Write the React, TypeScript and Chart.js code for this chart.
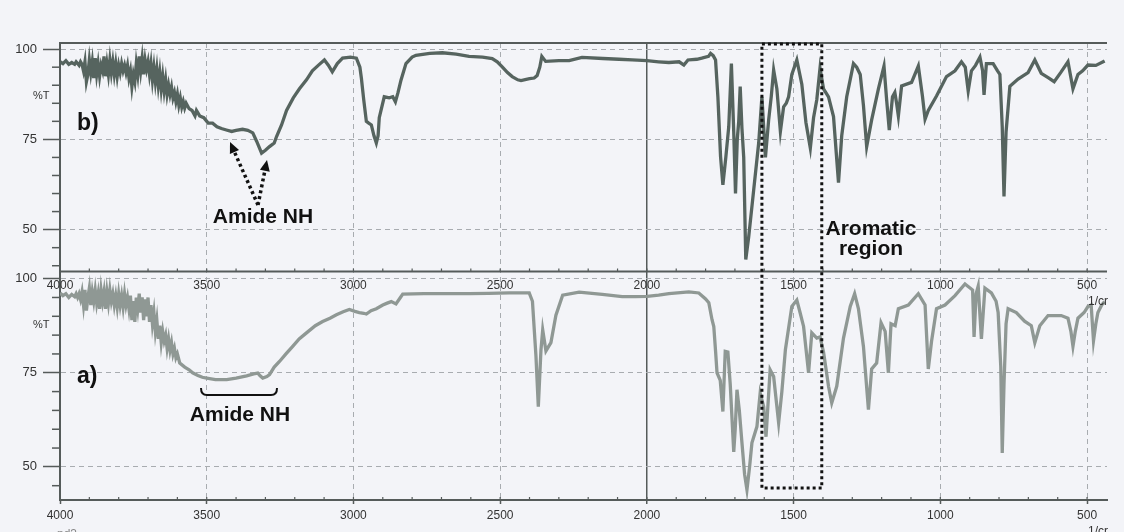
import React, { useEffect, useRef } from 'react';
import { Chart, registerables } from 'chart.js';

Chart.register(...registerables);

// ---- Spectrum b) (top panel): wavenumber (1/cm) and %T ----
const waveB = [
  4000, 3990, 3980, 3970, 3960, 3950, 3945, 3940, 3935, 3930,
  3925, 3920, 3915, 3910, 3905, 3900, 3895, 3890, 3885, 3880,
  3875, 3870, 3865, 3860, 3855, 3850, 3845, 3840, 3835, 3830,
  3825, 3820, 3815, 3810, 3805, 3800, 3795, 3790, 3785, 3780,
  3775, 3770, 3765, 3760, 3755, 3750, 3745, 3740, 3735, 3730,
  3725, 3720, 3715, 3710, 3705, 3700, 3695, 3690, 3685, 3680,
  3675, 3670, 3665, 3660, 3655, 3650, 3645, 3640, 3635, 3630,
  3625, 3620, 3615, 3610, 3605, 3600, 3595, 3590, 3585, 3580,
  3575, 3570, 3560, 3550, 3540, 3535, 3524, 3510, 3495, 3480,
  3465, 3450, 3433, 3415, 3400, 3378, 3360, 3343, 3330, 3313,
  3300, 3286, 3270, 3262, 3245, 3228, 3205, 3184, 3160, 3140,
  3120, 3099, 3085, 3072, 3055, 3037, 3010, 2990, 2978, 2973,
  2965, 2956, 2948, 2939, 2930, 2922, 2916, 2912, 2895, 2878,
  2866, 2857, 2848, 2838, 2821, 2800, 2787, 2740, 2697, 2650,
  2606, 2560, 2527, 2510, 2493, 2475, 2459, 2440, 2429, 2400,
  2384, 2374, 2365, 2358, 2345, 2300, 2265, 2221, 2150, 2095,
  2050, 2000, 1960, 1925, 1890, 1874, 1860, 1830, 1813, 1790,
  1783, 1774, 1766, 1758, 1749, 1741, 1731, 1721, 1712, 1704,
  1698, 1692, 1687, 1682, 1676, 1670, 1663, 1653, 1636, 1619,
  1608, 1596, 1585, 1576, 1568, 1557, 1545, 1534, 1525, 1517,
  1506, 1489, 1472, 1458, 1443, 1432, 1421, 1410, 1398, 1381,
  1364, 1347, 1336, 1319, 1296, 1285, 1273, 1262, 1251, 1234,
  1211, 1192, 1183, 1174, 1163, 1155, 1149, 1143, 1132, 1098,
  1075, 1061, 1052, 1041, 1013, 979, 950, 928, 915, 905,
  894, 880, 865, 856, 851, 843, 820, 805, 797, 789,
  783, 776, 763, 735, 701, 678, 656, 630, 612, 590,
  565, 548, 531, 515, 497, 470, 440,
];
const transB = [
  96.5, 96, 96.8, 95.8, 96.3, 95.8, 96.5, 96, 95.5, 96.5,
  95.8, 94, 96.5, 91, 93, 97, 93.5, 96.5, 92, 97.5,
  93, 96, 92.5, 95.5, 94, 98, 92.5, 96, 93, 97,
  93.5, 96.5, 93, 96, 92.5, 95.5, 93.5, 96, 94, 95.5,
  93.5, 95.5, 92, 94, 89.6, 93, 91, 96, 93, 98,
  94, 97.5, 93, 97, 94.5, 96.5, 93, 96, 91.5, 95,
  91, 94.5, 90, 93.5, 89, 92.5, 88.5, 91.5, 87.5, 90,
  87.5, 89.5, 86.5, 88, 85.5, 87.5, 84.5, 86.5, 84, 85.5,
  83.7, 85, 83.5, 83, 81.5, 83, 81.5, 81, 79.5, 79.5,
  78.5, 78, 77.6, 77.2, 77.5, 77.8, 77.5, 76.8, 74.5, 71.2,
  72, 73, 74, 75.8, 79, 83, 86.5, 89, 91.5, 94,
  95.5, 97, 95.5, 93.7, 96, 97.5, 97.8, 97.5, 95, 92,
  86, 80, 79.5, 79, 76, 74, 76, 81, 86.8, 86.5,
  86.8, 85.4, 88, 91.4, 96, 97.8, 98.3, 98.8, 99, 98.6,
  98, 97.8, 97.4, 96.5, 95.1, 93.5, 92.4, 91.5, 91.3, 91.8,
  92, 92.7, 95, 98, 96.6, 96.8, 96.8, 97.7, 97.4, 97.2,
  97, 96.8, 96.5, 96.3, 96.5, 95.6, 97, 97.2, 97.5, 98,
  98.8, 98.2, 97, 86.8, 70.3, 62.4, 70, 78.5, 96, 77,
  60, 75, 80, 89.6, 78, 70, 41.7, 48, 61, 74,
  86.8, 70, 80.4, 87, 94.2, 89, 77.2, 84, 85, 86.8,
  93, 97, 90.3, 79.7, 72.6, 81, 86, 94.7, 89, 86.8,
  81.3, 63, 76, 86.8, 96, 95, 93, 84.4, 73, 80.4,
  89, 95.3, 86, 77.6, 86.8, 88, 85, 81.5, 89.8, 90.8,
  95.3, 87, 80.6, 83, 87, 92.4, 94, 96.5, 95, 88.4,
  94, 95.5, 97.8, 94, 87.3, 96, 96, 94, 93, 78.5,
  59.2, 77, 89.7, 91.7, 93.5, 97, 93.3, 92, 91, 93.5,
  96.5, 89, 93, 94, 95.6, 95.5, 96.7,
];

// ---- Spectrum a) (bottom panel): wavenumber (1/cm) and %T ----
const waveA = [
  4000, 3990, 3980, 3970, 3960, 3950, 3945, 3940, 3935, 3930,
  3925, 3920, 3915, 3910, 3905, 3900, 3895, 3890, 3885, 3880,
  3875, 3870, 3865, 3860, 3855, 3850, 3845, 3840, 3835, 3830,
  3825, 3820, 3815, 3810, 3805, 3800, 3795, 3790, 3785, 3780,
  3775, 3770, 3765, 3760, 3755, 3750, 3745, 3740, 3735, 3730,
  3725, 3720, 3715, 3710, 3705, 3700, 3695, 3690, 3685, 3680,
  3675, 3670, 3665, 3660, 3655, 3650, 3645, 3640, 3635, 3630,
  3625, 3620, 3615, 3610, 3605, 3600,
  3592, 3575, 3560, 3548, 3530, 3515, 3500, 3470, 3432, 3400,
  3364, 3340, 3326, 3318, 3309, 3295, 3286, 3270, 3252, 3230,
  3207, 3185, 3160, 3130, 3105, 3080, 3058, 3035, 3014, 2995,
  2980, 2965, 2956, 2940, 2922, 2900, 2885, 2871, 2855, 2840,
  2832, 2760, 2719, 2605, 2540, 2469, 2401, 2390, 2378, 2370,
  2361, 2355, 2344, 2327, 2310, 2287, 2231, 2152, 2084, 2040,
  1999, 1960, 1925, 1857, 1823, 1800, 1789, 1778, 1772, 1766,
  1761, 1750, 1741, 1733, 1724, 1716, 1704, 1699, 1693, 1685,
  1676, 1667, 1659, 1650, 1642, 1625, 1614, 1602, 1594, 1580,
  1568, 1551, 1540, 1528, 1506, 1489, 1478, 1466, 1449, 1438,
  1421, 1410, 1398, 1381, 1370, 1353, 1330, 1307, 1292, 1279,
  1262, 1245, 1234, 1217, 1202, 1188, 1177, 1168, 1154, 1143,
  1109, 1075, 1052, 1041, 1030, 1013, 984, 950, 916, 890,
  885, 878, 871, 860, 848, 826, 810, 803, 794, 789,
  783, 776, 769, 741, 713, 690, 678, 661, 633, 588,
  565, 555, 548, 540, 531, 510, 497, 486, 478, 470,
  463, 450, 440,
];
const transA = [
  96.2, 95.5, 96, 95, 95.8, 95.2, 96, 95, 96, 94.5,
  96.5, 93, 97, 91.5, 95, 97.5, 93, 96.5, 94, 97,
  93.5, 96, 92, 97, 94, 96.5, 92, 96.5, 93.5, 97,
  94, 96, 93, 95.5, 92.5, 96, 93, 95.5, 92.5, 96,
  93, 95, 92, 95.5, 89, 94, 88.5, 95, 92, 96,
  91, 95, 89, 94.5, 90, 95, 88.5, 93, 88, 91,
  86, 89, 84, 87.5, 83, 86, 83.5, 85, 81.5, 84,
  81, 83, 80, 81.5, 79, 80,
  77.6, 76.5, 75.8, 75, 74.3, 73.8, 73.6, 73.2, 73.2, 73.6,
  74.2, 74.7, 74.9, 74.2, 73.6, 74, 74.5, 76.5, 78, 80,
  82, 84, 85.6, 87.5, 88.6, 89.5, 90.4, 91.2, 91.8, 91.3,
  91, 90.8, 90.6, 91.5, 92, 93, 93.5, 93.9, 93.3, 95,
  95.9, 96, 96, 96, 96.1, 96.2, 96.2, 94, 79.4, 66,
  81, 86.4, 80.8, 83, 90.3, 95.6, 96.4, 95.8, 95.2, 95.2,
  95.3, 95.6, 96, 96.5, 96.2, 94.6, 93.6, 89.1, 87.3, 80.8,
  75, 73, 64.7, 80.7, 80.5, 72, 54, 60, 70.5, 65,
  56.4, 48, 43.9, 50, 56.4, 60.7, 69.6, 66, 58, 75.8,
  74, 61.7, 70, 81.1, 92.6, 94.3, 91, 87.3, 75, 85.6,
  84.2, 84.5, 80.5, 71.4, 67, 71.4, 84.2, 92.6, 96, 92,
  82, 65.2, 76, 77.6, 88.3, 86, 75, 88, 87.5, 92,
  93, 96, 93, 76, 83.3, 92, 93, 95.5, 98.6, 97,
  84.5, 96, 98, 84, 97.5, 96.2, 94, 91, 76.6, 53.7,
  72, 88, 92, 91, 88.7, 87.5, 83, 87.5, 90.2, 90.2,
  89.5, 86, 82, 86, 89.5, 91, 92.6, 93, 83.5, 88,
  91, 93, 93.9,
];

const xTickValues = [4000, 3500, 3000, 2500, 2000, 1500, 1000, 500];
const yTickValues = [50, 75, 100];

const FONT = '"Liberation Sans", Arial, sans-serif';
const BG = '#f3f4f8';
const AXIS = '#555b5a';
const GRID = '#a8acb0';

function drawArrow(ctx: CanvasRenderingContext2D, x0: number, y0: number, x1: number, y1: number) {
  const ang = Math.atan2(y1 - y0, x1 - x0);
  const head = 11;
  const bx = x1 - head * Math.cos(ang);
  const by = y1 - head * Math.sin(ang);
  ctx.save();
  ctx.strokeStyle = '#111';
  ctx.lineWidth = 3.5;
  ctx.setLineDash([3, 3]);
  ctx.beginPath();
  ctx.moveTo(x0, y0);
  ctx.lineTo(bx, by);
  ctx.stroke();
  ctx.setLineDash([]);
  ctx.fillStyle = '#111';
  ctx.beginPath();
  ctx.moveTo(x1, y1);
  ctx.lineTo(bx + 5 * Math.sin(ang), by - 5 * Math.cos(ang));
  ctx.lineTo(bx - 5 * Math.sin(ang), by + 5 * Math.cos(ang));
  ctx.closePath();
  ctx.fill();
  ctx.restore();
}

const decorPlugin = {
  id: 'decor',
  beforeDraw(chart: any) {
    const { ctx, width, height } = chart;
    ctx.save();
    ctx.fillStyle = BG;
    ctx.fillRect(0, 0, width, height);
    ctx.restore();
  },
  afterDraw(chart: any) {
    const { ctx, chartArea } = chart;
    const x = chart.scales.x;
    const yTop = chart.scales.yTop;
    const yBot = chart.scales.yBot;
    ctx.save();
    // frame lines
    ctx.strokeStyle = AXIS;
    ctx.lineWidth = 2;
    ctx.beginPath();
    ctx.moveTo(chartArea.left, yTop.top);
    ctx.lineTo(chartArea.right, yTop.top);
    ctx.moveTo(chartArea.left, yBot.top);
    ctx.lineTo(chartArea.right, yBot.top);
    ctx.stroke();
    // minor y ticks
    ctx.lineWidth = 1.5;
    [yTop, yBot].forEach((s: any) => {
      for (let v = 40; v <= 100; v += 5) {
        if (v < s.min || v > s.max || yTickValues.includes(v)) continue;
        const py = s.getPixelForValue(v);
        ctx.beginPath();
        ctx.moveTo(chartArea.left - 8, py);
        ctx.lineTo(chartArea.left, py);
        ctx.stroke();
      }
    });
    // minor x ticks
    ctx.lineWidth = 1.2;
    for (let v = 3900; v >= 500; v -= 100) {
      const px = x.getPixelForValue(v);
      [yBot.top, chartArea.bottom].forEach((yy: number) => {
        ctx.beginPath();
        ctx.moveTo(px, yy);
        ctx.lineTo(px, yy - 3);
        ctx.stroke();
      });
    }
    // %T labels
    ctx.fillStyle = '#333';
    ctx.font = `11px ${FONT}`;
    ctx.textAlign = 'left';
    ctx.textBaseline = 'middle';
    ctx.fillText('%T', 33, 96);
    ctx.fillText('%T', 33, 325);
    // inner x labels (top of panel a)
    ctx.font = `12px ${FONT}`;
    ctx.textAlign = 'center';
    xTickValues.forEach((v) => {
      ctx.fillText(String(v), x.getPixelForValue(v), yBot.top + 14);
    });
    ctx.save();
    ctx.beginPath();
    ctx.rect(0, 0, chartArea.right + 1, chart.height);
    ctx.clip();
    ctx.textAlign = 'left';
    ctx.fillText('1/cr', 1088, 302);
    ctx.restore();
    ctx.textAlign = 'left';
    ctx.textBaseline = 'alphabetic';
    ctx.fillText('1/cr', 1088, 535);
    ctx.fillStyle = '#888';
    ctx.fillText('pd3', 57, 538);

    // annotations
    ctx.fillStyle = '#111';
    ctx.font = `bold 23px ${FONT}`;
    ctx.textAlign = 'left';
    ctx.fillText('b)', 77, 130);
    ctx.fillText('a)', 77, 383);
    ctx.font = `bold 21px ${FONT}`;
    ctx.textAlign = 'center';
    ctx.fillText('Amide NH', 263, 223);
    ctx.fillText('Amide NH', 240, 421);
    ctx.fillText('Aromatic', 871, 235);
    ctx.fillText('region', 871, 255);

    drawArrow(ctx, 258, 205, 230, 142);
    drawArrow(ctx, 258, 205, 267, 160);

    // bracket
    ctx.strokeStyle = '#111';
    ctx.lineWidth = 2;
    ctx.setLineDash([]);
    ctx.beginPath();
    ctx.moveTo(201, 388);
    ctx.quadraticCurveTo(201, 395, 207, 395);
    ctx.lineTo(271, 395);
    ctx.quadraticCurveTo(277, 395, 277, 388);
    ctx.stroke();

    // dotted rectangle
    const rx0 = x.getPixelForValue(1608);
    const rx1 = x.getPixelForValue(1404);
    ctx.lineWidth = 3;
    ctx.setLineDash([3, 3]);
    ctx.beginPath();
    ctx.rect(rx0, 44, rx1 - rx0, 488 - 44);
    ctx.stroke();
    ctx.restore();
  },
};

export default function App() {
  const ref = useRef<HTMLCanvasElement | null>(null);
  useEffect(() => {
    if (!ref.current) return;
    Chart.defaults.font.family = FONT;
    const ptsB = waveB.map((w, i) => ({ x: w, y: transB[i] }));
    const ptsA = waveA.map((w, i) => ({ x: w, y: transA[i] }));
    const yCommon = (min: number, max: number) => ({
      type: 'linear' as const,
      position: 'left' as const,
      stack: 'ir',
      stackWeight: 1,
      min,
      max,
      afterBuildTicks: (s: any) => {
        s.ticks = yTickValues.map((v) => ({ value: v }));
      },
      afterFit: (s: any) => {
        s.width = 60;
      },
      ticks: {
        color: '#333',
        font: { size: 13, family: FONT },
        padding: 6,
        callback: (v: any) => String(v),
      },
      grid: {
        color: GRID,
        lineWidth: 1,
        tickColor: AXIS,
        tickLength: 17,
        tickWidth: 1.5,
      },
      border: {
        display: true,
        color: AXIS,
        width: 2,
        dash: (c: any) => (c && c.tick ? [5, 4] : []),
      },
    });
    const chart = new Chart(ref.current, {
      type: 'line',
      data: {
        datasets: [
          {
            label: 'b)',
            data: ptsB,
            yAxisID: 'yTop',
            borderColor: '#56645f',
            borderWidth: 3.3,
            pointRadius: 0,
            tension: 0,
            fill: false,
          },
          {
            label: 'a)',
            data: ptsA,
            yAxisID: 'yBot',
            borderColor: '#8f9894',
            borderWidth: 3.3,
            pointRadius: 0,
            tension: 0,
            fill: false,
          },
        ],
      },
      options: {
        animation: false,
        responsive: false,
        maintainAspectRatio: false,
        layout: { padding: { top: 43, right: 17, left: 0, bottom: 0 } },
        plugins: { legend: { display: false }, tooltip: { enabled: false } },
        scales: {
          x: {
            type: 'linear',
            reverse: true,
            min: 432,
            max: 4000,
            afterBuildTicks: (s: any) => {
              s.ticks = xTickValues.map((v) => ({ value: v }));
            },
            afterFit: (s: any) => {
              s.height = 32;
            },
            ticks: {
              color: '#333',
              font: { size: 12, family: FONT },
              padding: 4,
              maxRotation: 0,
              autoSkip: false,
              callback: (v: any) => String(v),
            },
            grid: {
              color: (c: any) =>
                c.tick && c.tick.value === 4000 ? 'rgba(0,0,0,0)' : c.tick && c.tick.value === 2000 ? AXIS : GRID,
              lineWidth: (c: any) => (c.tick && c.tick.value === 2000 ? 1.5 : 1),
              tickColor: AXIS,
              tickLength: 4,
              tickWidth: 1.5,
            },
            border: {
              display: true,
              color: AXIS,
              width: 2,
              dash: (c: any) => (c && c.tick && c.tick.value !== 2000 ? [5, 4] : []),
            },
          },
          yBot: yCommon(41.2, 101.9),
          yTop: yCommon(38.4, 101.7),
        } as any,
      },
      plugins: [decorPlugin],
    } as any);
    return () => chart.destroy();
  }, []);
  return (
    <div style={{ position: 'absolute', left: 0, top: 0, width: 1124, height: 532, background: BG }}>
      <canvas ref={ref} width={1124} height={532} style={{ width: 1124, height: 532, display: 'block' }} />
    </div>
  );
}
